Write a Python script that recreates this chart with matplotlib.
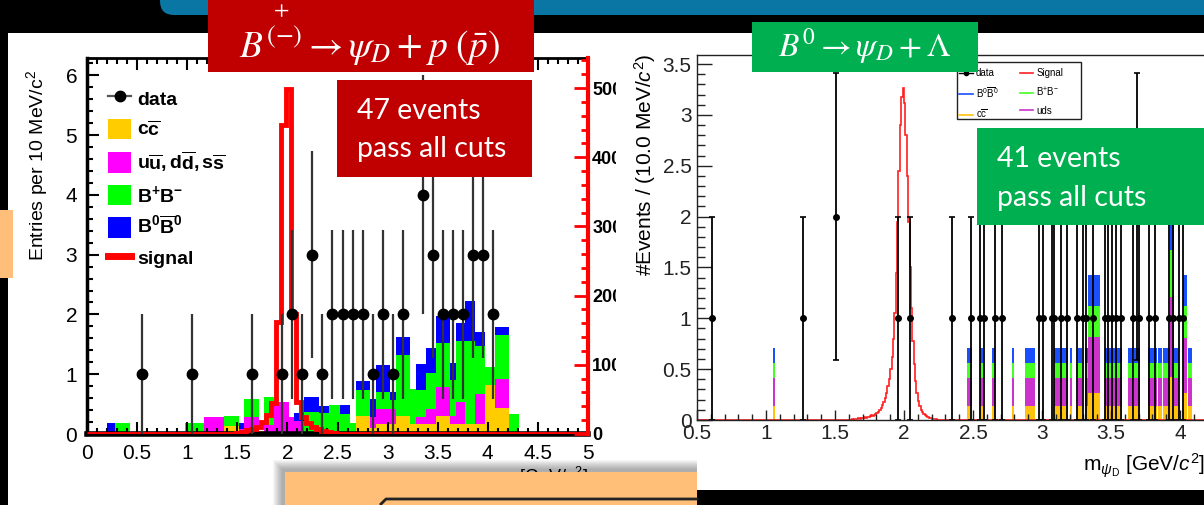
import numpy as np
import matplotlib
matplotlib.use("Agg")
import matplotlib.pyplot as plt
from matplotlib.patches import Rectangle, FancyBboxPatch, Patch
from matplotlib.lines import Line2D
from matplotlib.transforms import Affine2D
from matplotlib.ticker import MultipleLocator, FuncFormatter

# ---------------- B(+/-) -> psi_D + p(pbar) ----------------
# stacked MC backgrounds, mass windows in GeV/c^2
bkgL_lo = [0.20, 0.28, 0.98, 1.17, 1.37, 1.52, 1.57, 1.72, 1.77, 1.87, 2.02, 2.07,
           2.17, 2.32, 2.42, 2.52, 2.62, 2.68, 2.82, 2.88, 3.02, 3.08, 3.22, 3.28,
           3.38, 3.48, 3.62, 3.68, 3.77, 3.87, 3.97, 4.07, 4.21]
bkgL_hi = [0.28, 0.43, 1.17, 1.37, 1.52, 1.57, 1.72, 1.77, 1.87, 2.02, 2.07, 2.17,
           2.32, 2.42, 2.52, 2.62, 2.68, 2.82, 2.88, 3.02, 3.08, 3.22, 3.28, 3.38,
           3.48, 3.62, 3.68, 3.77, 3.87, 3.97, 4.07, 4.21, 4.31]
bkgL_ccbar = [0, 0, 0, 0, 0.13, 0, 0, 0.05, 0, 0, 0, 0,
              0, 0, 0, 0, 0, 0.30, 0.10, 0.17, 0.17, 0.30, 0.17, 0.17,
              0.17, 0.30, 0.17, 0.17, 0.17, 0.17, 0.82, 0.43, 0]
bkgL_uds = [0, 0, 0, 0.28, 0, 0.08, 0.28, 0, 0.15, 0.53, 0.28, 0.22,
            0, 0, 0, 0, 0, 0, 0.19, 0.25, 0.25, 0, 0, 0.11,
            0.25, 0.49, 0.13, 0.37, 0, 0.50, 0, 0.49, 0]
bkgL_bpbm = [0, 0.18, 0.18, 0, 0.17, 0, 0.30, 0, 0.47, 0, 0, 0,
             0.37, 0.35, 0.48, 0.34, 0.18, 0.44, 0, 0.29, 0.15, 1.02, 0.58, 0.46,
             0.60, 0.73, 0.60, 1.02, 1.39, 0.81, 0.30, 0.73, 0.33]
bkgL_b0b0 = [0.18, 0, 0, 0, 0, 0.10, 0, 0, 0, 0, 0, 0.13,
             0.25, 0.12, 0, 0.14, 0, 0.15, 0.29, 0.44, 0.14, 0.30, 0, 0.43,
             0.42, 0.45, 0.29, 0.30, 0.66, 0.22, 0, 0.14, 0]

# signal MC (right-hand scale)
sigL_edges = [0.0, 1.49, 1.54, 1.59, 1.64, 1.69, 1.74, 1.79, 1.84, 1.89, 1.94, 1.99,
              2.04, 2.09, 2.14, 2.19, 2.24, 2.29, 2.34, 2.39, 2.44, 2.49, 5.0]
sigL_counts = [0, 17, 35, 52, 78, 104, 173, 277, 450, 1620, 4460, 4980,
               1730, 460, 240, 155, 105, 70, 45, 25, 17, 0]

# data
dataL_mass = [0.55, 1.05, 1.65, 1.95, 2.05, 2.15, 2.25, 2.35, 2.45, 2.55, 2.65, 2.75,
              2.85, 2.95, 3.05, 3.15, 3.35, 3.45, 3.55, 3.65, 3.75, 3.85, 3.95, 4.05]
dataL_n = [1, 1, 1, 1, 2, 1, 3, 1, 2, 2, 2, 2, 1, 2, 1, 2, 4, 3, 2, 2, 2, 3, 3, 2]

# ---------------- B0 -> psi_D + Lambda ----------------
bkgR_lo = [1.05, 2.46, 2.55, 2.64, 2.78, 2.88, 3.09, 3.14, 3.20, 3.26, 3.31, 3.33, 3.37,
           3.46, 3.51, 3.62, 3.67, 3.77, 3.80, 3.84, 3.88, 3.93, 3.96, 4.02, 4.06]
bkgR_hi = [1.065, 2.49, 2.57, 2.66, 2.80, 2.95, 3.14, 3.19, 3.22, 3.29, 3.33, 3.37, 3.42,
           3.51, 3.58, 3.66, 3.71, 3.80, 3.83, 3.87, 3.93, 3.96, 3.99, 4.05, 4.09]
bkgR_ccbar = [0.14, 0.14, 0.14, 0.14, 0.14, 0.14, 0.14, 0.14, 0.14, 0.14, 0.14, 0.27, 0.27,
              0.14, 0.14, 0.14, 0.14, 0.14, 0.14, 0.14, 0.14, 0.42, 0.14, 0.27, 0.14]
bkgR_uds = [0.27, 0.27, 0.27, 0.27, 0.27, 0.27, 0.27, 0.27, 0.27, 0.27, 0.27, 0.55, 0.55,
            0.27, 0.27, 0.27, 0.27, 0.27, 0.27, 0.27, 0.27, 0.79, 0.27, 0.54, 0.27]
bkgR_bpbm = [0.15, 0.15, 0.15, 0.15, 0.15, 0.15, 0.15, 0.15, 0.15, 0.15, 0.15, 0.30, 0.30,
             0.15, 0.15, 0.15, 0.15, 0.15, 0.15, 0.15, 0.15, 0.46, 0.15, 0.31, 0.15]
bkgR_b0b0 = [0.15, 0.15, 0.15, 0.15, 0.15, 0.15, 0.15, 0.15, 0.15, 0.15, 0.15, 0.31, 0.31,
             0.15, 0.15, 0.15, 0.15, 0.15, 0.15, 0.15, 0.15, 0.45, 0.15, 0.31, 0.15]

# signal shape in 10 MeV bins starting at 1.60 GeV/c^2
sigR_start, sigR_width = 1.60, 0.01
sigR_values = [0.0, 0.0, 0.005, 0.0, 0.01, 0.005, 0.01, 0.015, 0.01, 0.02,
               0.015, 0.025, 0.02, 0.03, 0.025, 0.035, 0.045, 0.04, 0.05, 0.06,
               0.07, 0.08, 0.10, 0.12, 0.15, 0.18, 0.22, 0.27, 0.33, 0.40,
               0.50, 0.62, 0.80, 1.05, 1.45, 1.95, 2.45, 2.90, 3.18, 3.27,
               3.12, 2.80, 2.40, 1.95, 1.50, 1.10, 0.78, 0.55, 0.38, 0.27,
               0.19, 0.14, 0.10, 0.08, 0.06, 0.045, 0.035, 0.03, 0.02, 0.015,
               0.01, 0.01, 0.005, 0.005, 0.0, 0.0, 0.0, 0.0, 0.0, 0.0]

dataR_mass = [0.607, 1.266, 1.507, 1.954, 2.043, 2.35, 2.486, 2.55, 2.58, 2.66, 2.71,
              2.98, 3.005, 3.07, 3.087, 3.135, 3.18, 3.256, 3.30, 3.32, 3.37, 3.457,
              3.48, 3.51, 3.536, 3.57, 3.657, 3.69, 3.70, 3.777, 3.82, 3.92, 3.95,
              3.99, 4.02]
dataR_n = [1, 1, 2, 1, 1, 1, 1, 1, 1, 1, 1,
           1, 1, 1, 1, 1, 1, 1, 1, 1, 1, 1,
           1, 1, 1, 1, 1, 2, 1, 1, 1, 1, 1,
           1, 1]

# ---------------- figure setup ----------------
W, H = 1204, 505
plt.rcParams['font.family'] = ['Liberation Sans', 'DejaVu Sans']
plt.rcParams['mathtext.fontset'] = 'custom'
plt.rcParams['mathtext.rm'] = 'Liberation Sans'
plt.rcParams['mathtext.it'] = 'Liberation Sans:italic'
plt.rcParams['mathtext.bf'] = 'Liberation Sans:bold'

fig = plt.figure(figsize=(W / 100, H / 100), dpi=100)
fig.patch.set_facecolor('black')
# pixel coordinates measured from the top-left corner
PX = Affine2D().scale(1 / 100, -1 / 100).translate(0, H / 100) + fig.dpi_scale_trans


def frac(x0, y0, x1, y1):
    return [x0 / W, 1 - y1 / H, (x1 - x0) / W, (y1 - y0) / H]


def box(x0, y0, x1, y1, color, z, **kw):
    r = Rectangle((x0, y0), x1 - x0, y1 - y0, transform=PX, facecolor=color,
                  edgecolor='none', zorder=z, **kw)
    fig.add_artist(r)
    return r


def ptext(x, y, s, z=6, **kw):
    return fig.text(x, y, s, transform=PX, zorder=z, **kw)


fmt_g = FuncFormatter(lambda v, p: f"{v:g}")

# slide background pieces
fig.add_artist(FancyBboxPatch((160, -40), 1100, 55, boxstyle='round,pad=0,rounding_size=14',
                              transform=PX, facecolor='#0A76A4', edgecolor='none', zorder=0.2))
box(8, 33, 620, 505, 'white', 0.1)
box(0, 210, 13, 278, '#FFBE7A', 0.3)

# ---------------- left panel ----------------
axL = fig.add_axes(frac(87, 58, 588, 434))
axL.set_zorder(1)
axL.patch.set_visible(False)
axL.set_xlim(0, 5)
axL.set_ylim(0, 6.29)

lo = np.array(bkgL_lo)
wid = np.array(bkgL_hi) - lo
bottom = np.zeros(len(lo))
for vals, col in [(bkgL_ccbar, '#FFCC00'), (bkgL_uds, '#FF00FF'),
                  (bkgL_bpbm, '#00FF00'), (bkgL_b0b0, '#0000FF')]:
    v = np.array(vals)
    axL.bar(lo, v, width=wid, bottom=bottom, align='edge', color=col, lw=0)
    bottom += v

for side in ['left', 'top', 'bottom']:
    axL.spines[side].set_color('black')
axL.spines['left'].set_linewidth(2.5)
axL.spines['top'].set_linewidth(2)
axL.spines['bottom'].set_linewidth(4)
axL.spines['right'].set_visible(False)
axL.xaxis.set_major_locator(MultipleLocator(0.5))
axL.xaxis.set_minor_locator(MultipleLocator(0.1))
axL.yaxis.set_major_locator(MultipleLocator(1))
axL.yaxis.set_minor_locator(MultipleLocator(0.2))
axL.xaxis.set_major_formatter(fmt_g)
axL.tick_params(which='both', direction='in', top=True, right=False, width=1.5, labelsize=15)
axL.tick_params(which='major', length=8.5)
axL.tick_params(which='minor', length=4.5)
axL.tick_params(axis='y', pad=7)
axL.tick_params(axis='x', pad=7)

axS = axL.twinx()
axS.set_zorder(1.1)
axS.patch.set_visible(False)
axS.set_ylim(0, 5434)
axS.stairs(sigL_counts, sigL_edges, color='#FF0000', lw=3.5)
for side in ['left', 'top', 'bottom']:
    axS.spines[side].set_visible(False)
axS.spines['right'].set_color('#FF0000')
axS.spines['right'].set_linewidth(3)
axS.set_yticks([0, 1000, 2000, 3000, 4000, 5000])
axS.set_yticklabels(['0', '1000', '2000', '3000', '4000', '5000'], fontweight='bold')
axS.yaxis.set_minor_locator(MultipleLocator(200))
axS.tick_params(axis='y', which='both', direction='in', colors='#FF0000', labelcolor='black',
                width=2, labelsize=13, pad=3)
axS.tick_params(axis='y', which='major', length=10)
axS.tick_params(axis='y', which='minor', length=5)

axD = fig.add_axes(frac(87, 58, 588, 434))
axD.set_zorder(1.2)
axD.set_xlim(0, 5)
axD.set_ylim(0, 6.29)
axD.axis('off')
nL = np.array(dataL_n, dtype=float)
axD.errorbar(dataL_mass, nL, yerr=np.sqrt(nL), fmt='o', ms=7.5, color='black',
             ecolor='#333333', elinewidth=1.6, capsize=0)

legL_handles = [Line2D([], [], color='#555555', lw=1.6, marker='o', ms=7.5,
                       mfc='black', mec='black'),
                Patch(facecolor='#FFCC00'), Patch(facecolor='#FF00FF'),
                Patch(facecolor='#00FF00'), Patch(facecolor='#0000FF'),
                Line2D([], [], color='#FF0000', lw=5)]
legL_labels = ['data', r'$\mathbf{c\overline{c}}$',
               r'$\mathbf{u\overline{u},d\overline{d},s\overline{s}}$',
               r'$\mathbf{B^{+}B^{-}}$', r'$\mathbf{B^{0}\overline{B}^{0}}$', 'signal']
axD.legend(legL_handles, legL_labels, loc='upper left', bbox_to_anchor=(108 / W, 1 - 88 / H),
           bbox_transform=fig.transFigure, frameon=False, borderpad=0, borderaxespad=0,
           handlelength=1.2, handleheight=1.25, labelspacing=0.5, handletextpad=0.3,
           prop={'weight': 'bold', 'size': 14})

fig.text(37, 165, r'Entries per 10 MeV/c$^{2}$', transform=PX, rotation=90, ha='center',
         va='center', fontsize=14, zorder=1.5)
ptext(588, 478, r'm$_{\psi_{D}}$ [GeV/c$^{2}$]', z=1.5, ha='right', va='center', fontsize=13)

# ---------------- right panel ----------------
box(616, 33, 1204, 490, 'white', 2)

axR = fig.add_axes(frac(697, 55, 1249, 420))
axR.set_zorder(3)
axR.patch.set_visible(False)
axR.set_xlim(0.5, 4.5)
axR.set_ylim(0, 3.59)

loR = np.array(bkgR_lo)
widR = np.array(bkgR_hi) - loR
bottom = np.zeros(len(loR))
for vals, col in [(bkgR_ccbar, '#FFC20E'), (bkgR_uds, '#CC33CC'),
                  (bkgR_bpbm, '#44FF22'), (bkgR_b0b0, '#1A4FFF')]:
    v = np.array(vals)
    axR.bar(loR, v, width=widR, bottom=bottom, align='edge', color=col, lw=0)
    bottom += v

sigR_edges = np.concatenate([[0.5], sigR_start + sigR_width * np.arange(len(sigR_values) + 1), [4.5]])
axR.stairs([0.0] + sigR_values + [0.0], sigR_edges, color='#FF2020', lw=1.2)

nR = np.array(dataR_n, dtype=float)
axR.errorbar(dataR_mass, nR, yerr=np.sqrt(nR), fmt='o', ms=4, color='black',
             elinewidth=1.3, capsize=2.5, capthick=1.2)

for side in ['left', 'top', 'bottom', 'right']:
    axR.spines[side].set_linewidth(1.0)
    axR.spines[side].set_color('#222222')
axR.xaxis.set_major_locator(MultipleLocator(0.5))
axR.xaxis.set_minor_locator(MultipleLocator(0.1))
axR.yaxis.set_major_locator(MultipleLocator(0.5))
axR.yaxis.set_minor_locator(MultipleLocator(0.1))
axR.xaxis.set_major_formatter(fmt_g)
axR.yaxis.set_major_formatter(fmt_g)
axR.tick_params(which='both', direction='in', width=1.0, labelsize=15, colors='#222222')
axR.tick_params(axis='y', which='major', length=11, pad=4)
axR.tick_params(axis='y', which='minor', length=5.5)
axR.tick_params(axis='x', which='major', length=7.5, pad=3)
axR.tick_params(axis='x', which='minor', length=4)

axR.add_patch(Rectangle((957, 62), 124, 57, transform=PX, facecolor='white',
                        edgecolor='#222222', lw=1.0, zorder=4.9, clip_on=False))
legR_handles = [Line2D([], [], color='black', lw=1, marker='o', ms=3),
                Line2D([], [], color='#1A4FFF', lw=1.2),
                Line2D([], [], color='#FFC20E', lw=1.2),
                Line2D([], [], color='#FF2020', lw=1.2),
                Line2D([], [], color='#44FF22', lw=1.2),
                Line2D([], [], color='#CC33CC', lw=1.2)]
legR_labels = ['data', r'B$^{0}\overline{\rm B}^{0}$', r'c$\overline{\rm c}$',
               'Signal', r'B$^{+}$B$^{-}$', 'uds']
legR = axR.legend(legR_handles, legR_labels, ncol=2, loc='upper left',
                  bbox_to_anchor=(959 / W, 1 - 68 / H), bbox_transform=fig.transFigure,
                  frameon=False, borderpad=0, borderaxespad=0, fontsize=7,
                  handlelength=1.4, labelspacing=0.75, columnspacing=2.2, handletextpad=0.3)
legR.set_zorder(5)

ptext(645, 165, r'#Events / (10.0 MeV/$c^{2}$)', z=3.5, rotation=90, ha='center',
      va='center', fontsize=15)
ptext(1083, 466, r'm$_{\psi_{\rm D}}$ [GeV/$c^{2}$]', z=3.5, ha='left', va='center',
      fontsize=15)

# ---------------- slide annotations ----------------
box(208, 0, 534, 72, '#C00000', 5)
ptext(370, 46, r'$B^{(-)} \rightarrow \psi_D + p\ (\bar{p})$', color='white', fontsize=27,
      ha='center', va='center', math_fontfamily='stix')
ptext(281, 11, r'$+$', color='white', fontsize=16, ha='center', va='center',
      math_fontfamily='stix')

box(337, 80, 532, 177, '#C00000', 5)
ptext(357, 119, '47 events', color='white', fontsize=20.5, family='Lato', va='baseline')
ptext(357, 157, 'pass all cuts', color='white', fontsize=20.5, family='Lato', va='baseline')

box(752, 22, 978, 72, '#00B050', 5)
ptext(865, 46, r'$B^{0} \rightarrow \psi_D + \Lambda$', color='white', fontsize=24,
      ha='center', va='center', math_fontfamily='stix')

box(977, 128, 1204, 225, '#00B050', 5)
ptext(997, 167, '41 events', color='white', fontsize=20.5, family='Lato', va='baseline')
ptext(997, 206, 'pass all cuts', color='white', fontsize=20.5, family='Lato', va='baseline')

# bottom callout with a soft drop shadow
for i in range(10):
    box(285 - 12 + i, 472 - 12 + i, 697, 520, '#000000', 5.5, alpha=0.035)
box(285, 472, 697, 520, '#FFBF79', 6)
fig.add_artist(Line2D([381, 386, 697], [504, 499, 499], transform=PX, color='#222222',
                      lw=2, zorder=6.5))

fig.savefig('out.png', dpi=100, facecolor=fig.get_facecolor())
